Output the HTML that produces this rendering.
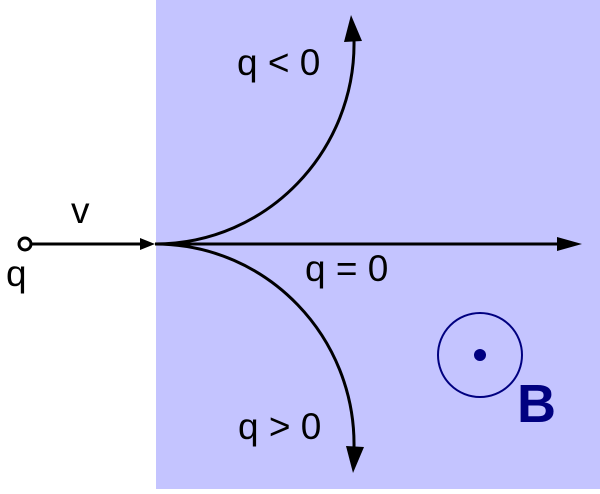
<!DOCTYPE html>
<html><head><style>html,body{margin:0;padding:0;background:#fff}</style></head>
<body>
<svg width="600" height="489" viewBox="0 0 600 489" xmlns="http://www.w3.org/2000/svg">
<rect x="156" y="0" width="444" height="489" fill="#c4c4ff"/>
<g stroke="#000" stroke-width="3" fill="none">
<line x1="31" y1="244" x2="142" y2="244"/>
<line x1="155" y1="244" x2="562" y2="244"/>
<path d="M155,244 C268,244 356,150 354,40"/>
<path d="M155,244 C268,244 356,338 354,448"/>
</g>
<circle cx="25" cy="244" r="6" fill="#fff" stroke="#000" stroke-width="3"/>
<polygon points="155,244 140,238 140,250" fill="#000"/>
<polygon points="582,244 557,237 557,251" fill="#000"/>
<polygon points="351,15 344,42 362,41" fill="#000"/>
<polygon points="353,473 346,446 364,447" fill="#000"/>
<circle cx="480" cy="355" r="42" fill="none" stroke="#000080" stroke-width="2"/>
<circle cx="480" cy="355" r="6" fill="#000080"/>
<g font-family="Liberation Sans, sans-serif" font-size="37" fill="#000">
<text x="71" y="223">v</text>
<text x="6" y="286">q</text>
<text x="237" y="75">q &lt; 0</text>
<text x="305" y="281">q = 0</text>
<text x="238" y="439">q &gt; 0</text>
</g>
<text x="517" y="422" font-family="Liberation Sans, sans-serif" font-size="54" font-weight="bold" fill="#000080">B</text>
</svg>
</body></html>
